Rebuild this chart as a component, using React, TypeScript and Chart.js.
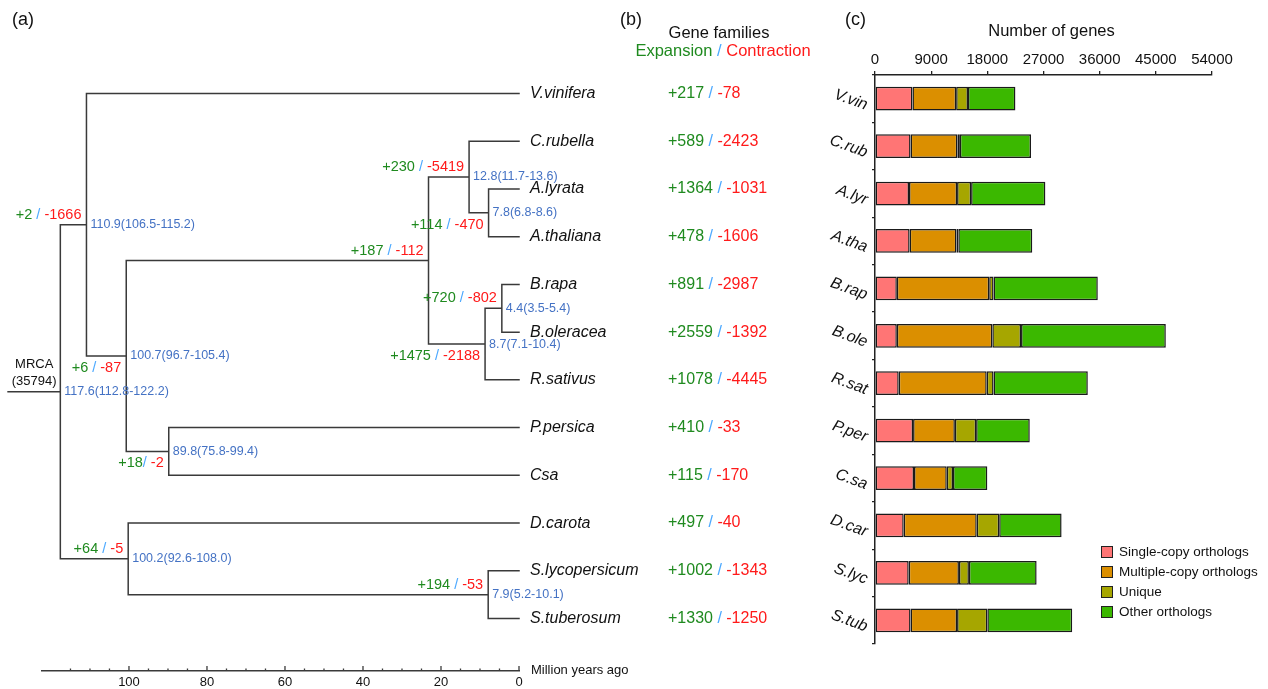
import React, { useEffect, useRef } from 'react';
import { Chart, registerables } from 'chart.js';

Chart.register(...registerables);

const FONT = '"Liberation Sans", Arial, sans-serif';
const GREEN = '#1f8a1f';
const RED = '#ff1a1a';
const SLASH = '#4aa8ff';
const CI_BLUE = '#4472c4';
const INK = '#111111';
const LINE = '#3a3a3a';

// ---------- (a) phylogenetic tree ----------
const LEAVES = ['V.vinifera', 'C.rubella', 'A.lyrata', 'A.thaliana', 'B.rapa', 'B.oleracea', 'R.sativus', 'P.persica', 'Csa', 'D.carota', 'S.lycopersicum', 'S.tuberosum'];
const LEAF_EXPANSION = [217, 589, 1364, 478, 891, 2559, 1078, 410, 115, 497, 1002, 1330];
const LEAF_CONTRACTION = [78, 2423, 1031, 1606, 2987, 1392, 4445, 33, 170, 40, 1343, 1250];

const NODE_IDS = ['root', 'n110.9', 'n100.7', 'nBrass', 'n12.8', 'n7.8', 'n8.7', 'n4.4', 'n89.8', 'n100.2', 'n7.9'];
const NODE_AGES = [117.6, 110.9, 100.7, 23.2, 12.8, 7.8, 8.7, 4.4, 89.8, 100.2, 7.9];
const NODE_CI = ['117.6(112.8-122.2)', '110.9(106.5-115.2)', '100.7(96.7-105.4)', '', '12.8(11.7-13.6)', '7.8(6.8-8.6)', '8.7(7.1-10.4)', '4.4(3.5-5.4)', '89.8(75.8-99.4)', '100.2(92.6-108.0)', '7.9(5.2-10.1)'];
const NODE_CHILDREN = [
  ['n110.9', 'n100.2'],
  ['V.vinifera', 'n100.7'],
  ['nBrass', 'n89.8'],
  ['n12.8', 'n8.7'],
  ['C.rubella', 'n7.8'],
  ['A.lyrata', 'A.thaliana'],
  ['n4.4', 'R.sativus'],
  ['B.rapa', 'B.oleracea'],
  ['P.persica', 'Csa'],
  ['D.carota', 'n7.9'],
  ['S.lycopersicum', 'S.tuberosum'],
];
const NODE_EXPANSION = [null, 2, 6, 187, 230, 114, 1475, 720, 18, 64, 194];
const NODE_CONTRACTION = [null, 1666, 87, 112, 5419, 470, 2188, 802, 2, 5, 53];
const NODE_SEPARATOR = ['', ' / ', ' / ', ' / ', ' / ', ' / ', ' / ', ' / ', '/ ', ' / ', ' / '];
const NODE_LABEL_SIDE = ['', 'above', 'below', 'above', 'above', 'below', 'below', 'above', 'below', 'above', 'above'];
const ROOT_STEM_AGE = 131;
const ROOT_FAMILIES = 35794;
const AGE_MAX = 122.3;
const AGE_TICK_STEP = 5;
const AGE_LABEL_STEP = 20;
const AGE_TICK_LIMIT = 115;

// ---------- (c) gene numbers ----------
const BAR_LABELS = ['V.vin', 'C.rub', 'A.lyr', 'A.tha', 'B.rap', 'B.ole', 'R.sat', 'P.per', 'C.sa', 'D.car', 'S.lyc', 'S.tub'];
const SINGLE_COPY = [6000, 5700, 5450, 5550, 3500, 3500, 3800, 6100, 6250, 4600, 5400, 5700];
const MULTIPLE_COPY = [7000, 7500, 7700, 7500, 14800, 15300, 14100, 6700, 5250, 11700, 8050, 7450];
const UNIQUE = [1900, 400, 2250, 300, 700, 4600, 1100, 3400, 1000, 3600, 1600, 4850];
const OTHER = [7600, 11400, 11900, 11850, 16700, 23200, 15100, 8600, 5500, 10000, 10850, 13600];
const SERIES_NAMES = ['Single-copy orthologs', 'Multiple-copy orthologs', 'Unique', 'Other orthologs'];
const SERIES_COLORS = ['#ff7575', '#db8f00', '#a6a600', '#3bb800'];
const GENE_MAX = 54000;
const GENE_STEP = 9000;

type Pt = { x: number; y: number };

function layoutTree(): Record<string, Pt> {
  const pos: Record<string, Pt> = {};
  LEAVES.forEach((l, i) => { pos[l] = { x: 0, y: i }; });
  const place = (id: string): Pt => {
    if (pos[id]) return pos[id];
    const i = NODE_IDS.indexOf(id);
    const ys = NODE_CHILDREN[i].map((c) => place(c).y);
    pos[id] = { x: NODE_AGES[i], y: (ys[0] + ys[ys.length - 1]) / 2 };
    return pos[id];
  };
  place('root');
  return pos;
}

function drawParts(ctx: CanvasRenderingContext2D, parts: [string, string][], x: number, y: number, align: 'left' | 'right' | 'center') {
  const widths = parts.map(([t]) => ctx.measureText(t).width);
  const total = widths.reduce((a, b) => a + b, 0);
  let cx = align === 'left' ? x : align === 'right' ? x - total : x - total / 2;
  ctx.textAlign = 'left';
  parts.forEach(([t, c], i) => {
    ctx.fillStyle = c;
    ctx.fillText(t, cx, y);
    cx += widths[i];
  });
}

function TreeChart() {
  const ref = useRef<HTMLCanvasElement | null>(null);
  useEffect(() => {
    if (!ref.current) return;
    const pos = layoutTree();
    const pts: any[] = [];
    NODE_IDS.forEach((id, i) => {
      const p = pos[id];
      const kids = NODE_CHILDREN[i].map((c) => pos[c]);
      pts.push({ x: p.x, y: kids[0].y }, { x: p.x, y: kids[kids.length - 1].y }, { x: null, y: null });
      kids.forEach((k) => pts.push({ x: p.x, y: k.y }, { x: k.x, y: k.y }, { x: null, y: null }));
    });
    pts.push({ x: ROOT_STEM_AGE, y: pos.root.y }, { x: pos.root.x, y: pos.root.y });

    const textPlugin = {
      id: 'treeText',
      afterDraw(chart: any) {
        const { ctx, chartArea } = chart;
        const xs = chart.scales.x;
        const ys = chart.scales.y;
        ctx.save();
        // axis tick marks (pointing up)
        ctx.strokeStyle = LINE;
        ctx.lineWidth = 1.3;
        xs.ticks.forEach((t: any) => {
          if (t.value > AGE_TICK_LIMIT) return;
          const px = xs.getPixelForValue(t.value);
          const len = t.value % AGE_LABEL_STEP === 0 ? 5 : 2.5;
          ctx.beginPath();
          ctx.moveTo(px, chartArea.bottom);
          ctx.lineTo(px, chartArea.bottom - len);
          ctx.stroke();
        });
        ctx.textBaseline = 'middle';
        ctx.font = `13px ${FONT}`;
        ctx.fillStyle = INK;
        ctx.textAlign = 'left';
        ctx.fillText('Million years ago', xs.getPixelForValue(0) + 12, chartArea.bottom - 1);

        // panel letters and header of (b)
        ctx.font = `18px ${FONT}`;
        ctx.fillText('(a)', 12, 20);
        ctx.fillText('(b)', 620, 20);
        ctx.font = `16.5px ${FONT}`;
        ctx.textAlign = 'center';
        ctx.fillText('Gene families', 719, 33);
        drawParts(ctx, [['Expansion', GREEN], [' / ', SLASH], ['Contraction', RED]], 723, 51, 'center');

        // leaves and column (b)
        LEAVES.forEach((name, i) => {
          const py = ys.getPixelForValue(i);
          ctx.font = `italic 16px ${FONT}`;
          ctx.fillStyle = INK;
          ctx.textAlign = 'left';
          ctx.fillText(name, xs.getPixelForValue(0) + 11, py);
          ctx.font = `16px ${FONT}`;
          drawParts(ctx, [[`+${LEAF_EXPANSION[i]}`, GREEN], [' / ', SLASH], [`-${LEAF_CONTRACTION[i]}`, RED]], 668, py, 'left');
        });

        // internal nodes
        NODE_IDS.forEach((id, i) => {
          const p = pos[id];
          const px = xs.getPixelForValue(p.x);
          const py = ys.getPixelForValue(p.y);
          if (NODE_CI[i]) {
            ctx.font = `12.5px ${FONT}`;
            ctx.fillStyle = CI_BLUE;
            ctx.textAlign = 'left';
            ctx.fillText(NODE_CI[i], px + 4, py);
          }
          if (NODE_EXPANSION[i] !== null) {
            ctx.font = `14.5px ${FONT}`;
            const dy = NODE_LABEL_SIDE[i] === 'above' ? -10 : 12;
            drawParts(ctx, [[`+${NODE_EXPANSION[i]}`, GREEN], [NODE_SEPARATOR[i], SLASH], [`-${NODE_CONTRACTION[i]}`, RED]], px - 5, py + dy, 'right');
          }
        });

        // MRCA
        const rx = (xs.getPixelForValue(ROOT_STEM_AGE) + xs.getPixelForValue(pos.root.x)) / 2;
        const ry = ys.getPixelForValue(pos.root.y);
        ctx.font = `13px ${FONT}`;
        ctx.fillStyle = INK;
        ctx.textAlign = 'center';
        ctx.fillText('MRCA', rx, ry - 27);
        ctx.fillText(`(${ROOT_FAMILIES})`, rx, ry - 10);
        ctx.restore();
      },
    };

    const chart = new Chart(ref.current, {
      type: 'scatter',
      data: {
        datasets: [{
          data: pts,
          showLine: true,
          borderColor: LINE,
          borderWidth: 1.5,
          borderCapStyle: 'square',
          pointRadius: 0,
          clip: false,
          spanGaps: false,
        } as any],
      },
      options: {
        animation: false,
        responsive: false,
        devicePixelRatio: 1,
        layout: { padding: { left: 42, right: 311, top: 10, bottom: 0 } },
        plugins: { legend: { display: false }, tooltip: { enabled: false } },
        scales: {
          x: {
            type: 'linear',
            position: 'bottom',
            reverse: true,
            min: 0,
            max: AGE_MAX,
            grid: { display: false, drawTicks: false },
            border: { display: true, color: LINE, width: 1.5 },
            ticks: {
              stepSize: AGE_TICK_STEP,
              includeBounds: false,
              autoSkip: false,
              maxRotation: 0,
              padding: 4,
              color: INK,
              font: { family: FONT, size: 13 },
              callback: (v: any) => {
                const n = Number(v);
                return n % AGE_LABEL_STEP === 0 && n <= AGE_TICK_LIMIT ? String(n) : '';
              },
            },
            afterFit: (s: any) => { s.height = 18; },
          },
          y: {
            type: 'linear',
            display: false,
            reverse: true,
            min: -1.75,
            max: 12.1,
          },
        },
      } as any,
      plugins: [textPlugin],
    });
    return () => chart.destroy();
  }, []);
  return <canvas ref={ref} width={830} height={689} style={{ position: 'absolute', left: 0, top: 0 }} />;
}

function GeneChart() {
  const ref = useRef<HTMLCanvasElement | null>(null);
  useEffect(() => {
    if (!ref.current) return;
    const values = [SINGLE_COPY, MULTIPLE_COPY, UNIQUE, OTHER];
    const labelPlugin = {
      id: 'geneText',
      afterDraw(chart: any) {
        const { ctx, chartArea } = chart;
        const ys = chart.scales.y;
        ctx.save();
        ctx.fillStyle = INK;
        ctx.textBaseline = 'middle';
        ctx.font = `18px ${FONT}`;
        ctx.textAlign = 'left';
        ctx.fillText('(c)', 45, 20);
        ctx.font = `16.5px ${FONT}`;
        ctx.textAlign = 'center';
        ctx.fillText('Number of genes', (chartArea.left + chartArea.right) / 2 + 8, 31);
        BAR_LABELS.forEach((lab, i) => {
          const py = ys.getPixelForValue(i);
          ctx.save();
          ctx.translate(chartArea.left - 8, py + 7);
          ctx.rotate((20 * Math.PI) / 180);
          ctx.font = `italic 16px ${FONT}`;
          ctx.textAlign = 'right';
          ctx.fillStyle = INK;
          ctx.fillText(lab, 0, 0);
          ctx.restore();
        });
        // legend
        const lx = chartArea.right - 111;
        const ly = 552;
        SERIES_NAMES.forEach((name, i) => {
          const y = ly + i * 20;
          ctx.fillStyle = SERIES_COLORS[i];
          ctx.fillRect(lx, y - 6, 12, 12);
          ctx.strokeStyle = '#222';
          ctx.lineWidth = 1;
          ctx.strokeRect(lx + 0.5, y - 5.5, 11, 11);
          ctx.fillStyle = INK;
          ctx.font = `13.5px ${FONT}`;
          ctx.textAlign = 'left';
          ctx.fillText(name, lx + 18, y);
        });
        ctx.restore();
      },
    };
    const chart = new Chart(ref.current, {
      type: 'bar',
      data: {
        labels: BAR_LABELS,
        datasets: SERIES_NAMES.map((name, i) => ({
          label: name,
          data: values[i],
          backgroundColor: SERIES_COLORS[i],
          borderColor: '#1a1a1a',
          borderWidth: 1.5,
          borderSkipped: false,
          barPercentage: 0.5,
          categoryPercentage: 1,
        })),
      },
      options: {
        indexAxis: 'y',
        animation: false,
        responsive: false,
        devicePixelRatio: 1,
        layout: { padding: { left: 71, right: 56, top: 0, bottom: 45 } },
        plugins: { legend: { display: false }, tooltip: { enabled: false } },
        scales: {
          x: {
            type: 'linear',
            position: 'top',
            stacked: true,
            min: 0,
            max: GENE_MAX,
            ticks: {
              stepSize: GENE_STEP,
              autoSkip: false,
              maxRotation: 0,
              padding: 2,
              color: INK,
              font: { family: FONT, size: 15 },
              callback: (v: any) => String(v),
            },
            grid: { drawOnChartArea: false, tickLength: 4, color: '#222', lineWidth: 1.3 },
            border: { color: '#222', width: 1.5 },
            afterFit: (s: any) => { s.height = 75; },
          },
          y: {
            type: 'category',
            stacked: true,
            ticks: { display: false },
            grid: { drawOnChartArea: false, tickLength: 3, color: '#222', lineWidth: 1.3, offset: true },
            border: { color: '#222', width: 1.5 },
            afterFit: (s: any) => { s.width = 4; },
          },
        },
      } as any,
      plugins: [labelPlugin],
    });
    return () => chart.destroy();
  }, []);
  return <canvas ref={ref} width={468} height={689} style={{ position: 'absolute', left: 800, top: 0 }} />;
}

export default function App() {
  return (
    <div style={{ position: 'absolute', left: 0, top: 0, width: 1268, height: 689, background: '#fff', overflow: 'hidden' }}>
      <TreeChart />
      <GeneChart />
    </div>
  );
}
